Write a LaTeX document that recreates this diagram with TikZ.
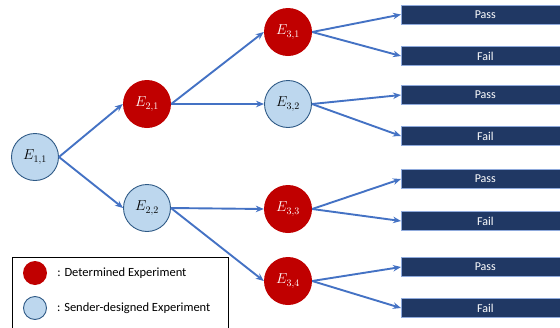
\documentclass[tikz,border=0pt]{standalone}
\usepackage{fontspec}
\setsansfont{Carlito}
\usetikzlibrary{arrows.meta}
\definecolor{detred}{HTML}{C00000}
\definecolor{sndblue}{HTML}{BDD7EE}
\definecolor{rimblue}{HTML}{2F5A86}
\definecolor{linkblue}{HTML}{4472C4}
\definecolor{navy}{HTML}{203864}
\definecolor{boxrim}{HTML}{8FAADC}
\begin{document}
\begin{tikzpicture}[x=1pt,y=-1pt,
    det/.style={circle,fill=detred,text=white,minimum size=48pt,inner sep=0pt,font=\fontsize{14.5}{17}\selectfont},
    snd/.style={circle,draw=rimblue,line width=0.9pt,fill=sndblue,minimum size=47pt,inner sep=0pt,font=\fontsize{14.5}{17}\selectfont},
    outbox/.style={rectangle,fill=navy,draw=boxrim,line width=0.6pt,text=white,minimum width=168pt,minimum height=19pt,inner sep=0pt,anchor=west,font=\sffamily\fontsize{12}{14}\selectfont},
    link/.style={-{Stealth[length=8pt,width=6.5pt]},draw=linkblue,line width=1.9pt},
    keytext/.style={anchor=west,inner sep=0pt,font=\sffamily\fontsize{12.5}{14}\selectfont}]
    \useasboundingbox (0,0) rectangle (560,327);
    % experiments
    \node[snd] (e11) at (35,157) {$E_{1,1}$};
    \node[det] (e21) at (147,104) {$E_{2,1}$};
    \node[snd] (e22) at (147,208) {$E_{2,2}$};
    \node[det] (e31) at (288,32) {$E_{3,1}$};
    \node[snd] (e32) at (288,104) {$E_{3,2}$};
    \node[det] (e33) at (288,209) {$E_{3,3}$};
    \node[det] (e34) at (288,281) {$E_{3,4}$};
    % outcomes
    \foreach \i/\yp/\yf in {1/14.5/56, 2/95/136, 3/179/221, 4/267/308} {
        \node[outbox] (p\i) at (401,\yp) {Pass};
        \node[outbox] (f\i) at (401,\yf) {Fail};
    }
    \draw[link] (e11.east) -- (e21.west);
    \draw[link] (e11.east) -- (e22.west);
    \draw[link] (e21.east) -- (e31.west);
    \draw[link] (e21.east) -- (e32.west);
    \draw[link] (e22.east) -- (e33.west);
    \draw[link] (e22.east) -- (e34.west);
    \foreach \i in {1,...,4} {
        \draw[link] (e3\i.east) -- (p\i.west);
        \draw[link] (e3\i.east) -- (f\i.west);
    }
    % legend
    \draw[line width=0.8pt] (12,257) rectangle (228,340);
    \node[det,minimum size=24pt] (kdet) at (35,273) {};
    \node[snd,minimum size=23pt] (ksnd) at (35,308) {};
    \node[keytext] (tdet) at ([xshift=10pt]kdet.east) {: Determined Experiment};
    \node[keytext] (tsnd) at ([xshift=10pt]ksnd.east) {: Sender-designed Experiment};
\end{tikzpicture}
\end{document}
